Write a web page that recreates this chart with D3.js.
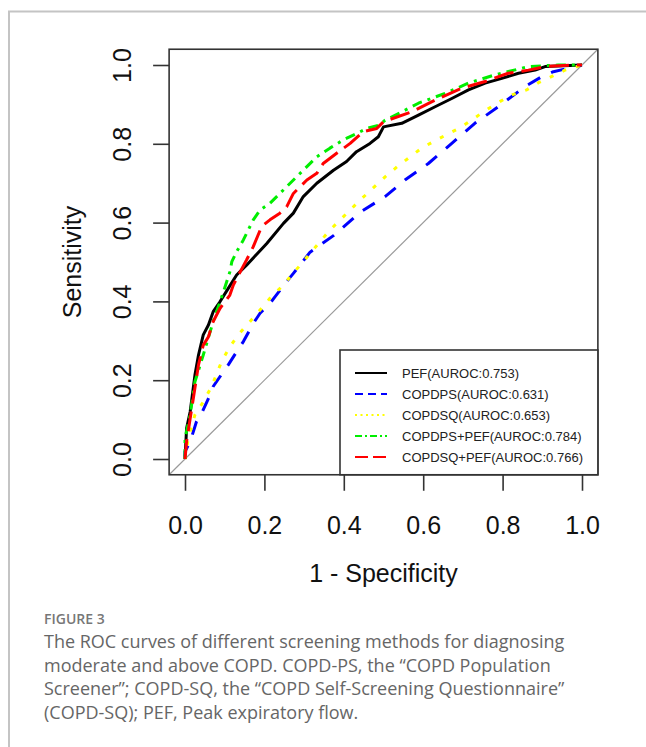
<!DOCTYPE html>
<html>
<head>
<meta charset="utf-8">
<script src="https://cdn.jsdelivr.net/npm/d3@7"></script>
<style>
  body { margin: 0; background: #fff; }
  svg { display: block; }
</style>
</head>
<body>
<svg id="chart" width="646" height="747"></svg>
<script>
////////////////////////////////////////////////////////////////////////////////
// Data
var seriesNames = ["PEF", "COPDPS", "COPDSQ", "COPDPS+PEF", "COPDSQ+PEF"]
var aurocs = [0.753, 0.631, 0.653, 0.784, 0.766]
var tickValues = [0, 0.2, 0.4, 0.6, 0.8, 1.0]

// 1 - specificity / sensitivity pairs
var pefX = [0, 0.004, 0.013, 0.025, 0.034, 0.046, 0.059, 0.071, 0.088, 0.109, 0.130, 0.155, 0.206, 0.248, 0.273, 0.298, 0.332, 0.374, 0.407, 0.432, 0.466, 0.487, 0.500, 0.546, 0.588, 0.630, 0.672, 0.714, 0.756, 0.798, 0.840, 0.882, 0.907, 1]
var pefY = [0, 0.078, 0.120, 0.213, 0.264, 0.315, 0.340, 0.374, 0.399, 0.433, 0.467, 0.492, 0.547, 0.598, 0.624, 0.666, 0.700, 0.733, 0.755, 0.780, 0.801, 0.818, 0.843, 0.852, 0.873, 0.894, 0.915, 0.937, 0.954, 0.966, 0.979, 0.987, 0.996, 1]

var copdpsX = [0, 0, 0.013, 0.029, 0.042, 0.063, 0.071, 0.097, 0.109, 0.130, 0.147, 0.172, 0.189, 0.214, 0.227, 0.256, 0.273, 0.315, 0.374, 0.441, 0.504, 0.554, 0.613, 0.672, 0.730, 0.789, 0.856, 0.898, 0.928, 1]
var copdpsY = [0, 0.019, 0.044, 0.095, 0.116, 0.162, 0.184, 0.222, 0.239, 0.272, 0.298, 0.344, 0.370, 0.395, 0.412, 0.450, 0.471, 0.525, 0.567, 0.626, 0.666, 0.708, 0.750, 0.801, 0.852, 0.894, 0.945, 0.970, 0.983, 1]

var copdsqX = [0, 0.008, 0.025, 0.046, 0.067, 0.092, 0.113, 0.134, 0.164, 0.189, 0.214, 0.248, 0.290, 0.365, 0.441, 0.504, 0.537, 0.596, 0.630, 0.697, 0.756, 0.793, 0.823, 0.861, 0.890, 0.957, 1]
var copdsqY = [0, 0.052, 0.112, 0.145, 0.184, 0.247, 0.285, 0.315, 0.349, 0.378, 0.408, 0.442, 0.492, 0.581, 0.657, 0.716, 0.744, 0.789, 0.808, 0.843, 0.884, 0.907, 0.924, 0.937, 0.955, 0.987, 1]

var copdpsPefX = [0, 0, 0.013, 0.025, 0.046, 0.071, 0.097, 0.113, 0.118, 0.130, 0.147, 0.172, 0.189, 0.214, 0.239, 0.281, 0.307, 0.332, 0.365, 0.399, 0.424, 0.458, 0.491, 0.504, 0.546, 0.588, 0.655, 0.714, 0.781, 0.865, 0.940, 1]
var copdpsPefY = [0, 0.052, 0.112, 0.196, 0.264, 0.349, 0.425, 0.475, 0.501, 0.526, 0.556, 0.607, 0.632, 0.649, 0.674, 0.716, 0.742, 0.767, 0.789, 0.810, 0.822, 0.839, 0.848, 0.860, 0.881, 0.903, 0.928, 0.954, 0.975, 0.996, 1.0, 1]

var copdsqPefX = [0, 0.004, 0.013, 0.021, 0.034, 0.046, 0.059, 0.071, 0.088, 0.113, 0.122, 0.139, 0.155, 0.172, 0.193, 0.214, 0.239, 0.256, 0.273, 0.307, 0.332, 0.348, 0.382, 0.416, 0.449, 0.483, 0.500, 0.571, 0.630, 0.697, 0.756, 0.814, 0.865, 0.907, 0.974, 1]
var copdsqPefY = [0, 0.044, 0.103, 0.154, 0.239, 0.289, 0.310, 0.349, 0.382, 0.416, 0.442, 0.475, 0.505, 0.539, 0.590, 0.607, 0.624, 0.640, 0.674, 0.708, 0.725, 0.750, 0.776, 0.801, 0.831, 0.839, 0.856, 0.881, 0.911, 0.941, 0.958, 0.979, 0.987, 0.996, 1.0, 1]

var captionLines = [
  "The ROC curves of different screening methods for diagnosing",
  "moderate and above COPD. COPD-PS, the \u201cCOPD Population",
  "Screener\u201d; COPD-SQ, the \u201cCOPD Self-Screening Questionnaire\u201d",
  "(COPD-SQ); PEF, Peak expiratory flow."
]

////////////////////////////////////////////////////////////////////////////////
// Styles
var colors = ["#000000", "#0000ff", "#ffff00", "#00ee00", "#ff0000"]
var plotDashes = [null, "14,12", "4,10", "10,6,3,6", "20,8"]
var legendDashes = [null, "8,5", "2,3.5", "7,3,2,3", "13,5"]
var plotFont = "'Liberation Sans', Arial, sans-serif"

var seriesX = [pefX, copdpsX, copdsqX, copdpsPefX, copdsqPefX]
var seriesY = [pefY, copdpsY, copdsqY, copdpsPefY, copdsqPefY]
var series = seriesNames.map(function(name, i) {
  return {
    label: name + "(AUROC:" + aurocs[i].toFixed(3) + ")",
    points: seriesX[i].map(function(v, j) { return [v, seriesY[i][j]] })
  }
})

var svg = d3.select("#chart")
svg.append("rect").attr("width", 646).attr("height", 747).attr("fill", "#fff")

// outer figure frame
svg.append("path")
  .attr("d", "M646,11.5H9V747")
  .attr("fill", "none")
  .attr("stroke", "#c4c4c4")
  .attr("stroke-width", 2)

var x = d3.scaleLinear().domain([0, 1]).range([185, 582])
var y = d3.scaleLinear().domain([0, 1]).range([459, 65])
var lo = -0.04, hi = 1.04

// diagonal reference line
svg.append("line")
  .attr("x1", x(lo)).attr("y1", y(lo))
  .attr("x2", x(hi)).attr("y2", y(hi))
  .attr("stroke", "#9a9a9a")
  .attr("stroke-width", 1.2)

var line = d3.line().x(d => x(d[0])).y(d => y(d[1]))

svg.selectAll("path.curve")
  .data(series)
  .join("path")
  .attr("class", "curve")
  .attr("d", d => line(d.points))
  .attr("fill", "none")
  .attr("stroke", (d, i) => colors[i])
  .attr("stroke-width", 3)
  .attr("stroke-linejoin", "round")
  .attr("stroke-dasharray", (d, i) => plotDashes[i])

// plot box
svg.append("rect")
  .attr("x", x(lo)).attr("y", y(hi))
  .attr("width", x(hi) - x(lo)).attr("height", y(lo) - y(hi))
  .attr("fill", "none")
  .attr("stroke", "#333")
  .attr("stroke-width", 1.6)

// axes
var xAxis = svg.append("g")
  .attr("transform", "translate(0," + y(lo) + ")")
  .call(d3.axisBottom(x).tickValues(tickValues).tickSize(16).tickPadding(25).tickFormat(d3.format(".1f")))
xAxis.select(".domain").remove()

var yAxis = svg.append("g")
  .attr("transform", "translate(" + x(lo) + ",0)")
  .call(d3.axisLeft(y).tickValues(tickValues).tickSize(16).tickFormat(d3.format(".1f")))
yAxis.select(".domain").remove()
yAxis.selectAll("text")
  .attr("transform", "rotate(-90)")
  .attr("x", 0).attr("y", -38).attr("dy", null)
  .attr("text-anchor", "middle")

svg.selectAll(".tick line").attr("stroke", "#333").attr("stroke-width", 1.6)
svg.selectAll(".tick text")
  .attr("font-family", plotFont)
  .attr("font-size", 25)
  .attr("fill", "#111")

svg.append("text")
  .attr("x", (x(0) + x(1)) / 2).attr("y", 582)
  .attr("text-anchor", "middle")
  .attr("font-family", plotFont).attr("font-size", 25).attr("fill", "#111")
  .text("1 - Specificity")

svg.append("text")
  .attr("transform", "translate(81," + (y(lo) + y(hi)) / 2 + ") rotate(-90)")
  .attr("text-anchor", "middle")
  .attr("font-family", plotFont).attr("font-size", 25).attr("fill", "#111")
  .text("Sensitivity")

// legend
var legend = svg.append("g")
legend.append("rect")
  .attr("x", 340).attr("y", 350)
  .attr("width", x(hi) - 340).attr("height", y(lo) - 350)
  .attr("fill", "#fff")
  .attr("stroke", "#333")
  .attr("stroke-width", 1.6)

var rows = legend.selectAll("g.row")
  .data(series)
  .join("g")
  .attr("class", "row")
  .attr("transform", (d, i) => "translate(0," + (373 + i * 21) + ")")

rows.append("line")
  .attr("x1", 355).attr("x2", 387)
  .attr("stroke", (d, i) => colors[i])
  .attr("stroke-width", 2)
  .attr("stroke-dasharray", (d, i) => legendDashes[i])

rows.append("text")
  .attr("x", 402).attr("y", 4.5)
  .attr("font-family", plotFont).attr("font-size", 13).attr("fill", "#222")
  .text(d => d.label)

// caption
svg.append("text")
  .attr("x", 44).attr("y", 624)
  .attr("font-family", "'Open Sans', sans-serif")
  .attr("font-size", 14).attr("font-weight", 600).attr("fill", "#777")
  .text("FIGURE 3")

svg.append("g").selectAll("text")
  .data(captionLines)
  .join("text")
  .attr("x", 44).attr("y", (d, i) => 648 + i * 23.5)
  .attr("font-family", "'Open Sans', sans-serif")
  .attr("font-size", 18).attr("fill", "#666")
  .text(d => d)
</script>
</body>
</html>
